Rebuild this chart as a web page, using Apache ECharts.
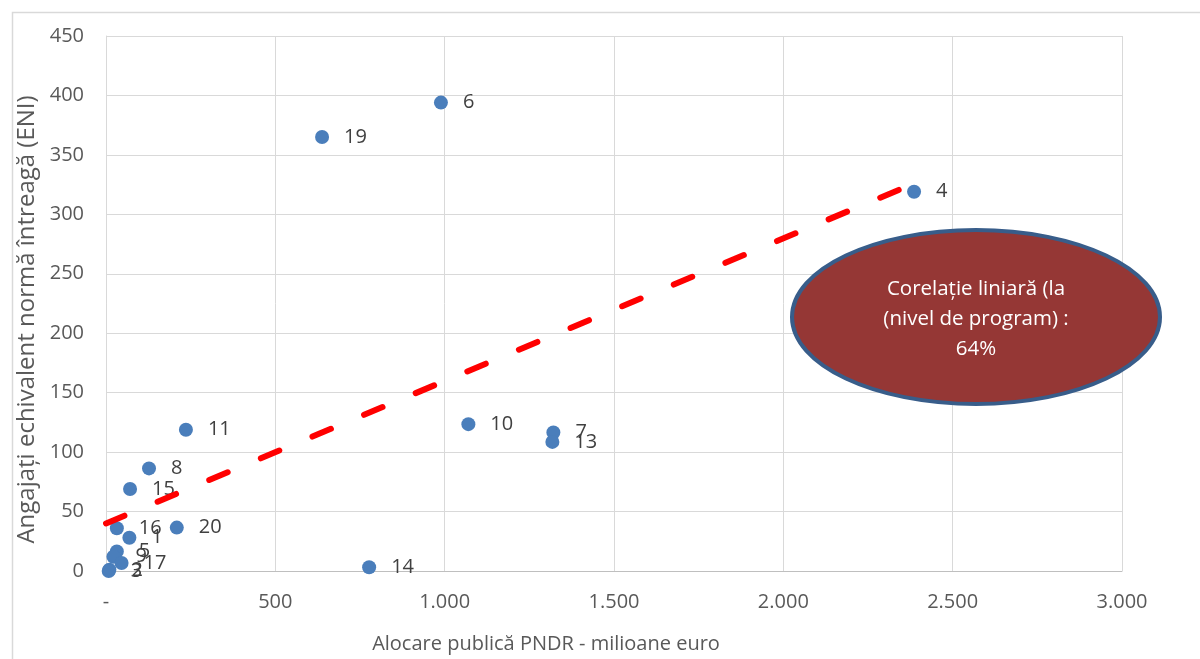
<!DOCTYPE html>
<html>
<head>
<meta charset="utf-8">
<script src="https://cdn.jsdelivr.net/npm/echarts@6/dist/echarts.min.js"></script>
<style>
html,body{margin:0;padding:0;background:#fff;}
#chart{width:1200px;height:659px;}
</style>
</head>
<body>
<div id="chart"></div>
<script>
// Data
const pointIds = ['1','2','3','4','5','6','7','8','9','10','11','13','14','15','16','17','19','20'];
const allocX  = [69, 10, 8, 2386, 32, 989, 1321, 127, 22, 1070, 236, 1318, 777, 71, 32, 46, 638, 209];
const eniY    = [28, 1, 0, 319, 16.5, 394, 116.5, 86.3, 12, 123.5, 118.8, 108.6, 3.2, 69, 36, 6.7, 365, 36.5];

const trendX = [0, 2386];
const trendY = [40, 326];

const xTickValues = [0, 500, 1000, 1500, 2000, 2500, 3000];
const xTickLabels = ['-', '500', '1.000', '1.500', '2.000', '2.500', '3.000'];
const yTickLabels = ['0','50','100','150','200','250','300','350','400','450'];

const xTitle = 'Alocare publică PNDR - milioane euro';
const yTitle = 'Angajați echivalent normă întreagă (ENI)';
const noteLines = ['Corelație liniară (la', '(nivel de program) :', '64%'];

const FONT = '"Open Sans", sans-serif';

const chart = echarts.init(document.getElementById('chart'), null, {renderer: 'canvas'});

const scatterData = pointIds.map((id, i) => ({name: id, value: [allocX[i], eniY[i]]}));
const trendData = trendX.map((x, i) => [x, trendY[i]]);

chart.setOption({
  animation: false,
  backgroundColor: '#ffffff',
  grid: {left: 106, right: 78, top: 36, bottom: 87, containLabel: false},
  xAxis: {
    type: 'value', min: 0, max: 3000, interval: 500,
    name: xTitle, nameLocation: 'middle', nameGap: 63,
    nameTextStyle: {color: '#595959', fontFamily: FONT, fontSize: 20, padding: [0, 136, 0, 0]},
    axisLine: {show: true, lineStyle: {color: '#BFBFBF', width: 1}},
    axisTick: {show: false},
    splitLine: {show: true, lineStyle: {color: '#D9D9D9', width: 1}},
    axisLabel: {
      color: '#595959', fontFamily: FONT, fontSize: 20, margin: 21,
      formatter: v => xTickLabels[xTickValues.indexOf(v)]
    }
  },
  yAxis: {
    type: 'value', min: 0, max: 450, interval: 50,
    name: yTitle, nameLocation: 'middle', nameGap: 54,
    nameTextStyle: {color: '#595959', fontFamily: FONT, fontSize: 24, padding: [0, 32, 0, 0]},
    axisLine: {show: true, lineStyle: {color: '#D9D9D9', width: 1}},
    axisTick: {show: false},
    splitLine: {show: true, lineStyle: {color: '#D9D9D9', width: 1}},
    axisLabel: {
      color: '#595959', fontFamily: FONT, fontSize: 20, margin: 22,
      formatter: v => yTickLabels[Math.round(v / 50)]
    }
  },
  series: [
    {
      type: 'scatter',
      data: scatterData,
      symbol: 'circle',
      symbolSize: 14,
      itemStyle: {color: '#4A7EBB', opacity: 1},
      label: {
        show: true, position: 'right', distance: 15,
        formatter: p => p.name,
        color: '#404040', fontFamily: FONT, fontSize: 20
      },
      z: 2
    },
    {
      type: 'line',
      data: trendData,
      symbol: 'none',
      lineStyle: {color: '#FF0000', width: 6, type: [20, 36], cap: 'round'},
      silent: true,
      z: 3
    }
  ],
  graphic: [
    {
      type: 'rect', left: 10, top: 10, silent: true,
      shape: {x: 0, y: 0, width: 1220, height: 700},
      style: {fill: 'none', stroke: '#D9D9D9', lineWidth: 1.5}
    },
    {
      type: 'ellipse', silent: true, z: 10,
      shape: {cx: 976, cy: 317, rx: 184, ry: 87},
      style: {fill: '#953735', stroke: '#385D8A', lineWidth: 4}
    },
    {
      type: 'text', silent: true, z: 11,
      x: 976, y: 319,
      style: {
        text: noteLines.join('\n'), fill: '#ffffff', font: '20.5px ' + FONT,
        textAlign: 'center', textVerticalAlign: 'middle', lineHeight: 30
      }
    }
  ]
});
</script>
</body>
</html>
